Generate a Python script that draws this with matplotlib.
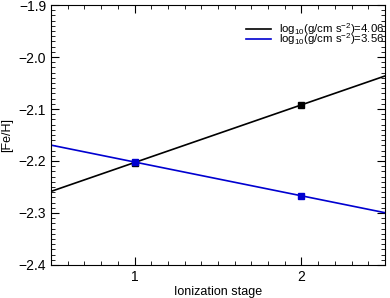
import matplotlib
matplotlib.use('Agg')
import matplotlib.pyplot as plt
import numpy as np
from matplotlib.ticker import MultipleLocator

plt.rcParams['font.family'] = ['Liberation Sans', 'DejaVu Sans']
plt.rcParams['mathtext.fontset'] = 'custom'
plt.rcParams['mathtext.rm'] = 'Liberation Sans'
plt.rcParams['mathtext.it'] = 'Liberation Sans'

# ionization stage and [Fe/H] for the two surface gravities
stage = [1, 2]
feh_406 = [-2.203, -2.092]
feh_356 = [-2.202, -2.267]
labels = [r'log$_{10}$(g/cm s$^{-2}$)=4.06', r'log$_{10}$(g/cm s$^{-2}$)=3.56']
colors = ['black', '#0000d0']

fig = plt.figure(figsize=(3.9, 2.98), dpi=100)
ax = fig.add_axes([0.131, 0.111, 0.856, 0.872])

xx = np.array([0.5, 2.5])
for y, lab, c in zip([feh_406, feh_356], labels, colors):
    k, b = np.polyfit(stage, y, 1)
    ax.plot(xx, k * xx + b, color=c, lw=1.2, label=lab)
    ax.plot(stage, y, 's', color=c, ms=5)

ax.set_xlim(0.5, 2.5)
ax.set_ylim(-2.4, -1.9)
ax.xaxis.set_major_locator(MultipleLocator(1))
ax.xaxis.set_minor_locator(MultipleLocator(0.1))
ax.yaxis.set_major_locator(MultipleLocator(0.1))
ax.yaxis.set_minor_locator(MultipleLocator(0.01))
ax.tick_params(which='both', direction='in', top=True, right=True, labelsize=10)
ax.tick_params(which='major', length=6)
ax.tick_params(which='minor', length=3)
ax.tick_params(axis='x', pad=4)
ax.set_xlabel('Ionization stage', fontsize=9, labelpad=1)
ax.set_ylabel('[Fe/H]', fontsize=9)
ax.legend(loc='upper right', bbox_to_anchor=(1.005, 0.948), frameon=False, fontsize=8.2,
          handlelength=2.2, labelspacing=-0.5, borderaxespad=0.0, borderpad=0.2,
          handletextpad=0.7)

fig.savefig('out.png', dpi=100)
